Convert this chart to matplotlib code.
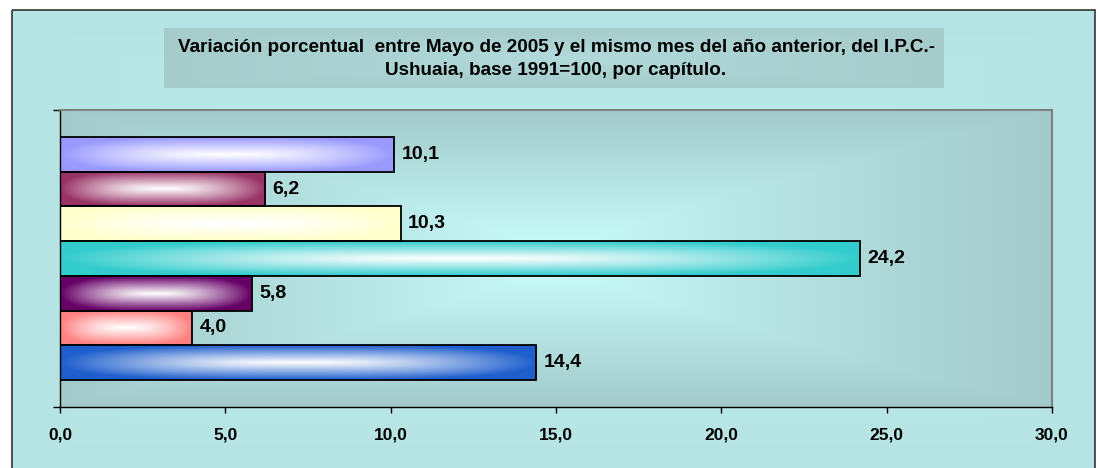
import numpy as np
import matplotlib
matplotlib.use("Agg")
import matplotlib.pyplot as plt
from matplotlib.colors import to_rgb
from matplotlib.patches import Rectangle

plt.rcParams["font.family"] = ["Liberation Sans", "DejaVu Sans"]

# Datos del grafico (de arriba hacia abajo)
titulo = ("Variación porcentual  entre Mayo de 2005 y el mismo mes del año anterior, del I.P.C.-\n"
          "Ushuaia, base 1991=100, por capítulo.")
variaciones = [10.1, 6.2, 10.3, 24.2, 5.8, 4.0, 14.4]
colores = ["#9999FF", "#993366", "#FFFFCC", "#33CCCC", "#660066", "#FF8080", "#1F5FCC"]
marcas_x = [0, 5, 10, 15, 20, 25, 30]


def degradado(centro, borde, nx, ny, p=None, gx=1.0):
    # degradado "desde el centro": rectangular (p=None) o redondeado
    u = np.abs(np.linspace(-1, 1, nx))[None, :] ** gx
    v = np.abs(np.linspace(-1, 1, ny))[:, None]
    if p is None:
        t = np.maximum(u, v)
    else:
        t = np.clip((u ** p + v ** p) ** (1 / p), 0, 1)
    c0 = np.array(to_rgb(centro))
    c1 = np.array(to_rgb(borde))
    return c0 + (c1 - c0) * t[..., None]


fig = plt.figure(figsize=(10.98, 4.68), dpi=100)
fig.patch.set_facecolor("white")

# fondo del area del grafico, en pixeles
fondo = fig.add_axes([0, 0, 1, 1], zorder=-10)
fondo.axis("off")
fondo.imshow(degradado("#C0EEEE", "#B6E3E3", 300, 120), extent=[12, 1095, 470, 10],
             aspect="auto", interpolation="bilinear")
fondo.add_patch(Rectangle((12, 10), 1083, 462, fill=False, edgecolor="#333333", lw=1.2))
fondo.imshow(degradado("#B2DADA", "#A5CBCB", 200, 40), extent=[164, 944, 88, 28],
             aspect="auto", interpolation="bilinear")
fondo.text(556, 59, titulo, ha="center", va="center", fontsize=13.6, fontweight="bold",
           linespacing=1.4)
fondo.set_xlim(0, 1098)
fondo.set_ylim(468, 0)

ax = fig.add_axes([60 / 1098, (468 - 407) / 468, 992 / 1098, 297 / 468])
ax.patch.set_alpha(0)
ax.imshow(degradado("#CCFFFF", "#A3CACA", 300, 120, gx=0.8), extent=[0, 1, 0, 1],
          transform=ax.transAxes, aspect="auto", interpolation="bilinear", zorder=0)

pos = np.arange(len(variaciones))
hueco = 27 / 34.7
for p, v, c in zip(pos, variaciones, colores):
    ax.imshow(degradado("white", c, 300, 60, p=2.2, gx=1.5), extent=[0, v, p + 0.5, p - 0.5],
              aspect="auto", interpolation="bilinear", zorder=2)
ax.barh(pos, variaciones, height=1.0, facecolor="none", edgecolor="black", lw=1.3, zorder=3)

for p, v in zip(pos, variaciones):
    ax.annotate(f"{v:.1f}".replace(".", ","), xy=(v, p), xytext=(5.5, 0),
                textcoords="offset points", ha="left", va="center",
                fontsize=14, fontweight="bold", zorder=4)

ax.set_xlim(0, 30)
ax.set_ylim(len(variaciones) - 0.5 + hueco, -0.5 - hueco)
ax.set_xticks(marcas_x)
ax.set_xticklabels([f"{x:.1f}".replace(".", ",") for x in marcas_x],
                   fontsize=12.5, fontweight="bold")
ax.set_yticks(ax.get_ylim())
ax.set_yticklabels([])
ax.tick_params(axis="x", direction="out", length=4, width=1, pad=10.5)
ax.tick_params(axis="y", direction="out", length=5, width=1)
for lado in ["top", "right"]:
    ax.spines[lado].set_color("#808080")
    ax.spines[lado].set_linewidth(1.5)
for lado in ["left", "bottom"]:
    ax.spines[lado].set_color("black")
    ax.spines[lado].set_linewidth(1)

fig.savefig("out.png", dpi=100)
